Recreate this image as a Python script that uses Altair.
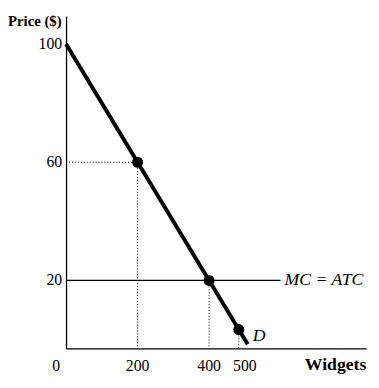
import altair as alt
import pandas as pd

# Demand curve (straight line drawn between its two ends)
demand_q = [0, 508]
demand_p = [100, -1.6]
# Marked points on the demand curve
point_q = [200, 400, 483]
point_p = [60, 20, 3.4]
# MC = ATC horizontal line
mc_q = [0, 600]
mc_p = [20, 20]
# Axis tick labels
x_ticks = [0, 200, 400, 500]
x_tick_labels = ["0", "200", "400", "500"]
y_ticks = [20, 60, 100]
y_tick_labels = ["20", "60", "100"]

W, H = 305, 338
XDOM = [0, 839]
YDOM = [-3, 109.5]
FONT = "Liberation Serif"

xs = alt.Scale(domain=XDOM, nice=False, zero=False)
ys = alt.Scale(domain=YDOM, nice=False, zero=False)
xax = alt.Axis(labels=False, ticks=False, grid=False, title=None,
               domainColor="black", domainWidth=1.3)
yax = alt.Axis(labels=False, ticks=False, grid=False, title=None,
               domainColor="black", domainWidth=1.3)

demand = pd.DataFrame({"q": demand_q, "p": demand_p})
pts = pd.DataFrame({"q": point_q, "p": point_p})
mc = pd.DataFrame({"q": mc_q, "p": mc_p})
xt = pd.DataFrame({"q": x_ticks, "label": x_tick_labels})
yt = pd.DataFrame({"p": y_ticks, "label": y_tick_labels})
hdot = pd.DataFrame({"q0": [0], "q1": [point_q[0]], "p": [point_p[0]]})
vdot = pd.DataFrame({"q": point_q, "p": point_p, "p0": [YDOM[0]] * 3})

axes_layer = alt.Chart(demand).mark_point(opacity=0).encode(
    x=alt.X("q:Q", scale=xs, axis=xax),
    y=alt.Y("p:Q", scale=ys, axis=yax),
)

hdotted = alt.Chart(hdot).mark_rule(color="black", strokeWidth=1, strokeDash=[1, 2]).encode(
    x=alt.X("q0:Q", scale=xs), x2="q1:Q", y=alt.Y("p:Q", scale=ys)
)
vdotted = alt.Chart(vdot).mark_rule(color="black", strokeWidth=1, strokeDash=[1, 2]).encode(
    x=alt.X("q:Q", scale=xs), y=alt.Y("p:Q", scale=ys), y2="p0:Q"
)
mc_line = alt.Chart(mc).mark_line(color="black", strokeWidth=1.3).encode(
    x=alt.X("q:Q", scale=xs), y=alt.Y("p:Q", scale=ys)
)
d_line = alt.Chart(demand).mark_line(color="black", strokeWidth=4, strokeCap="butt").encode(
    x=alt.X("q:Q", scale=xs), y=alt.Y("p:Q", scale=ys)
)
dots = alt.Chart(pts).mark_circle(color="black", size=125, opacity=1).encode(
    x=alt.X("q:Q", scale=xs), y=alt.Y("p:Q", scale=ys)
)

xlabels = alt.Chart(xt).transform_filter("datum.q != 0").mark_text(
    font=FONT, fontSize=16, color="black", baseline="middle", align="center").encode(
    x=alt.X("q:Q", scale=xs),
    y=alt.value(H + 18),
    text="label:N",
)
xlabel0 = alt.Chart(xt).transform_filter("datum.q == 0").mark_text(
    font=FONT, fontSize=16, color="black", baseline="middle", align="center", dx=-10).encode(
    x=alt.X("q:Q", scale=xs),
    y=alt.value(H + 18),
    text="label:N",
)
ylabels = alt.Chart(yt).mark_text(font=FONT, fontSize=16, color="black",
                                  baseline="middle", align="right", dx=-4).encode(
    x=alt.value(0),
    y=alt.Y("p:Q", scale=ys),
    text="label:N",
)
mc_label = alt.Chart(mc.iloc[[1]]).mark_text(font=FONT, fontSize=18, fontStyle="italic",
                                            color="black", align="left", baseline="middle", dx=4).encode(
    x=alt.X("q:Q", scale=xs), y=alt.Y("p:Q", scale=ys), text=alt.value("MC = ATC")
)
d_label = alt.Chart(demand.iloc[[1]]).mark_text(font=FONT, fontSize=18, fontStyle="italic",
                                               color="black", align="left", baseline="middle",
                                               dx=5, dy=-8).encode(
    x=alt.X("q:Q", scale=xs), y=alt.Y("p:Q", scale=ys), text=alt.value("D")
)
price_title = alt.Chart(demand.iloc[[0]]).mark_text(font=FONT, fontSize=15, fontWeight="bold",
                                                   color="black", align="left", baseline="middle").encode(
    x=alt.value(-59), y=alt.value(5), text=alt.value("Price ($)")
)
widgets_title = alt.Chart(demand.iloc[[0]]).mark_text(font=FONT, fontSize=18, fontWeight="bold",
                                                     color="black", align="center", baseline="middle").encode(
    x=alt.value(274), y=alt.value(H + 17), text=alt.value("Widgets")
)

chart = alt.layer(
    axes_layer, hdotted, vdotted, mc_line, d_line, dots,
    xlabels, xlabel0, ylabels, mc_label, d_label, price_title, widgets_title,
).properties(
    width=W, height=H,
    autosize=alt.AutoSizeParams(type="none"),
    padding={"left": 59, "top": 5, "right": 5, "bottom": 29},
    background="white",
).configure_view(stroke=None)

chart.save("out.html", embed_options={"renderer": "svg", "actions": False})
